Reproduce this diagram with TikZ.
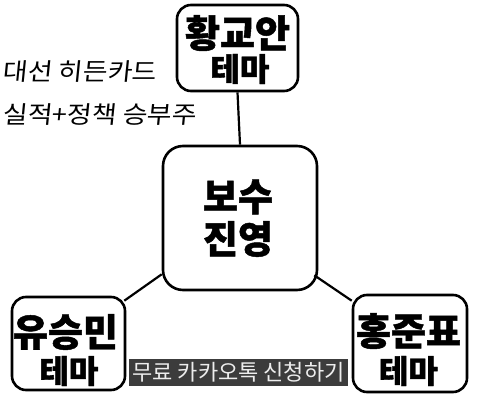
\documentclass[tikz,border=0pt]{standalone}
\usepackage{fontspec}
\newfontfamily\kr[BoldFeatures={FakeBold=1.2}]{Noto Sans CJK KR}
\definecolor{kakaobg}{HTML}{3C3C3C}
\definecolor{kakaotx}{HTML}{EDEDED}
\tikzset{
  box/.style={draw=black, line width=2.6pt, rounded corners=14pt, fill=white, inner sep=0pt},
  big/.style={inner sep=0pt, font=\kr\bfseries\fontsize{38}{42}\selectfont},
  small/.style={inner sep=0pt, font=\kr\bfseries\fontsize{32}{36}\selectfont},
  hand/.style={inner sep=0pt, anchor=west, font=\kr\fontsize{24}{28}\selectfont, xslant=0.1, xscale=1.12},
  link/.style={line width=2.2pt, black},
}
\begin{document}
\begin{tikzpicture}[x=1pt,y=-1pt]
\useasboundingbox (0,0) rectangle (486,403);
\node[box, minimum width=121pt, minimum height=86pt] (top) at (237.5,48) {};
\node[box, rounded corners=20pt, minimum width=154pt, minimum height=144pt] (ctr) at (240,218) {};
\node[box, minimum width=113pt, minimum height=93pt] (bl) at (68.5,343.5) {};
\node[box, minimum width=114pt, minimum height=97pt] (br) at (410,343.5) {};
\draw[link] (top.south) -- (ctr.north);
\draw[link] ([yshift=17pt]ctr.south west) -- ([xshift=-2pt,yshift=-5pt]bl.north east);
\draw[link] ([xshift=-4pt,yshift=16pt]ctr.south east) -- ([yshift=-7pt]br.north west);
% texts
\node[big] (t1) at (237.5,33) {황교안};
\node[small] (t2) at (240,69) {테마};
\node[big] (c1) at (238,197) {보수};
\node[big] (c2) at (238,239) {진영};
\node[big] (l1) at (65.5,332) {유승민};
\node[small] (l2) at (69,371) {테마};
\node[big] (r1) at (408.5,331) {홍준표};
\node[small] (r2) at (408.5,371) {테마};
\node[fill=kakaobg, text=kakaotx, inner sep=0pt, minimum width=219pt, minimum height=27pt, font=\kr\fontsize{22}{25}\selectfont] (kakao) at (238.5,372.5) {무료 카카오톡 신청하기};
\node[hand] (h1) at (3,72) {대선 히든카드};
\node[hand] (h2) at (3,115) {실적+정책 승부주};
\end{tikzpicture}
\end{document}
